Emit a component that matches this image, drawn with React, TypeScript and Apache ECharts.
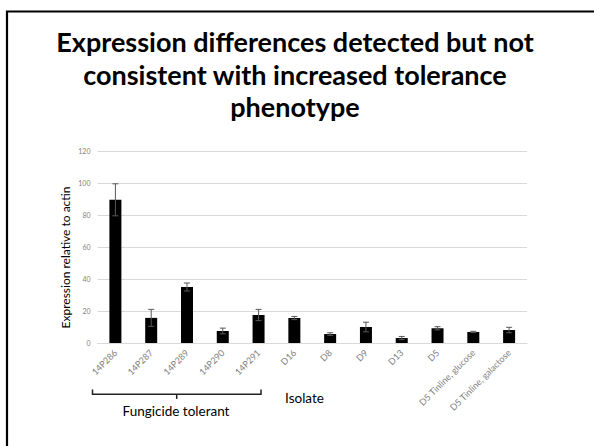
import React, { useEffect, useRef } from 'react';
import * as echarts from 'echarts';

const categories = [
  '14P286', '14P287', '14P289', '14P290', '14P291', 'D16', 'D8', 'D9', 'D13', 'D5',
  'D5 Tinline, glucose', 'D5 Tinline, galactose',
];
const values = [89.5, 15.7, 35, 7.5, 17.5, 15.6, 5.6, 10, 3.1, 9.2, 6.9, 8.1];
const errors = [10, 5.3, 2.5, 1.8, 3.5, 1, 0.8, 3, 1, 1, 0.4, 1.7];
const yTicks = [0, 20, 40, 60, 80, 100, 120];
const titleLines = [
  'Expression differences detected but not',
  'consistent with increased tolerance',
  'phenotype',
];
const yAxisName = 'Expression relative to actin';
const xAxisName = 'Isolate';
const groupLabel = 'Fungicide tolerant';

const FONT = 'Lato, "Open Sans", sans-serif';

export default function App() {
  const ref = useRef<HTMLDivElement>(null);
  useEffect(() => {
    if (!ref.current) return;
    const chart = echarts.init(ref.current, null, { renderer: 'svg' });
    const errData = values.map((v, i) => [i, v - errors[i], v + errors[i]]);
    const titleStyle = (t: string) => ({
      text: t, fontSize: 27, fontWeight: 'bold', fontFamily: FONT, fill: '#000',
      align: 'center', verticalAlign: 'middle',
    });
    chart.setOption({
      animation: false,
      backgroundColor: '#ffffff',
      grid: { left: 97.5, right: 67, top: 151, bottom: 103 },
      xAxis: {
        type: 'category',
        data: categories,
        axisLine: { show: true, lineStyle: { color: '#d9d9d9', width: 1 } },
        axisTick: { show: false },
        axisLabel: {
          rotate: 45,
          interval: 0,
          margin: 8,
          color: '#808080',
          fontSize: 9,
          fontFamily: FONT,
        },
      },
      yAxis: {
        type: 'value',
        min: yTicks[0],
        max: yTicks[yTicks.length - 1],
        interval: 20,
        axisLine: { show: false },
        axisTick: { show: false },
        axisLabel: { color: '#808080', fontSize: 7, margin: 7, fontFamily: FONT },
        splitLine: { lineStyle: { color: '#d9d9d9', width: 1 } },
      },
      series: [
        {
          type: 'bar',
          data: values,
          barWidth: 12,
          itemStyle: { color: '#000000' },
        },
        {
          type: 'custom',
          data: errData,
          z: 5,
          renderItem: (params: any, api: any) => {
            const idx = api.value(0);
            const top = api.coord([idx, api.value(2)]);
            const bot = api.coord([idx, api.value(1)]);
            const hw = 3;
            const style = { stroke: '#595959', lineWidth: 1 };
            return {
              type: 'group',
              children: [
                { type: 'line', shape: { x1: top[0], y1: top[1], x2: bot[0], y2: bot[1] }, style },
                { type: 'line', shape: { x1: top[0] - hw, y1: top[1], x2: top[0] + hw, y2: top[1] }, style },
                { type: 'line', shape: { x1: bot[0] - hw, y1: bot[1], x2: bot[0] + hw, y2: bot[1] }, style },
              ],
            };
          },
        },
      ],
      graphic: [
        {
          type: 'rect',
          shape: { x: 7, y: 11.5, width: 800, height: 800 },
          style: { fill: 'none', stroke: '#000', lineWidth: 2.2 },
          silent: true,
        },
        { type: 'text', x: 295, y: 41, style: titleStyle(titleLines[0]) },
        { type: 'text', x: 295, y: 74, style: titleStyle(titleLines[1]) },
        { type: 'text', x: 295, y: 106, style: titleStyle(titleLines[2]) },
        {
          type: 'text', x: 65, y: 257.5, rotation: Math.PI / 2,
          style: { text: yAxisName, fontSize: 12, fontFamily: FONT, fill: '#000', align: 'center', verticalAlign: 'middle' },
        },
        {
          type: 'polyline',
          shape: { points: [[92.5, 389.5], [92.5, 394.3], [261, 394.3], [261, 389.5]] },
          style: { stroke: '#222', lineWidth: 1.5, fill: 'none' },
        },
        {
          type: 'line',
          shape: { x1: 176.7, y1: 394.3, x2: 176.7, y2: 399 },
          style: { stroke: '#222', lineWidth: 1.5 },
        },
        {
          type: 'text', x: 176, y: 411,
          style: { text: groupLabel, fontSize: 13.5, fontFamily: FONT, fill: '#000', align: 'center', verticalAlign: 'middle' },
        },
        {
          type: 'text', x: 304.5, y: 398,
          style: { text: xAxisName, fontSize: 13.5, fontFamily: FONT, fill: '#000', align: 'center', verticalAlign: 'middle' },
        },
      ],
    });
    return () => chart.dispose();
  }, []);
  return (
    <div
      ref={ref}
      style={{ position: 'fixed', left: 0, top: 0, width: 594, height: 446 }}
    />
  );
}
